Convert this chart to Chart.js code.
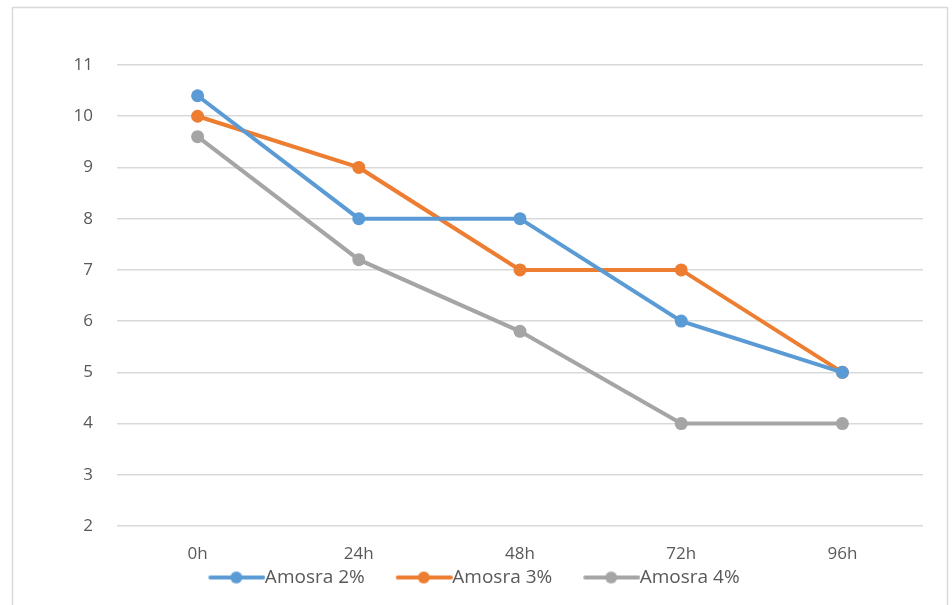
<!DOCTYPE html>
<html>
<head>
<meta charset="utf-8">
<script src="https://cdn.jsdelivr.net/npm/chart.js@4.4.1/dist/chart.umd.min.js"></script>
<style>
html,body{margin:0;padding:0;background:#fff;}
#wrap{position:relative;width:952px;height:605px;}
</style>
</head>
<body>
<div id="wrap"><canvas id="c" width="952" height="605"></canvas></div>
<script>
const categories = ['0h', '24h', '48h', '72h', '96h'];
const seriesNames = ['Amosra 2%', 'Amosra 3%', 'Amosra 4%'];
const amosra2 = [10.4, 8, 8, 6, 5];
const amosra3 = [10, 9, 7, 7, 5];
const amosra4 = [9.6, 7.2, 5.8, 4, 4];
const yTicks = [2, 3, 4, 5, 6, 7, 8, 9, 10, 11];
const colors = ['#5B9BD5', '#ED7D31', '#A5A5A5'];

const FONT = '"Open Sans", Lato, "Liberation Sans", sans-serif';
const LEG_FS = 19;

function legendIcon(color) {
  const cv = document.createElement('canvas');
  cv.width = 92; cv.height = 14;
  const g = cv.getContext('2d');
  g.strokeStyle = color; g.lineWidth = 4; g.lineCap = 'round';
  g.beginPath(); g.moveTo(37, 7); g.lineTo(90, 7); g.stroke();
  g.fillStyle = color;
  g.beginPath(); g.arc(63, 7, 6, 0, Math.PI * 2); g.fill();
  return cv;
}

const frame = {
  id: 'frame',
  beforeDraw(chart) {
    const ctx = chart.ctx;
    ctx.save();
    ctx.fillStyle = '#fff';
    ctx.fillRect(0, 0, chart.width, chart.height);
    ctx.strokeStyle = '#d9d9d9';
    ctx.lineWidth = 1.5;
    ctx.strokeRect(12.5, 7.5, 935, 700);
    ctx.restore();
  }
};

const datasets = [amosra2, amosra3, amosra4].map((d, i) => ({
  label: seriesNames[i],
  data: d,
  borderColor: colors[i],
  backgroundColor: colors[i],
  borderWidth: 4,
  pointStyle: 'circle',
  pointRadius: 6.5,
  pointHoverRadius: 6.5,
  pointBackgroundColor: colors[i],
  pointBorderWidth: 0,
  tension: 0
}));

new Chart(document.getElementById('c'), {
  type: 'line',
  data: { labels: categories, datasets },
  plugins: [frame],
  options: {
    responsive: false,
    animation: false,
    devicePixelRatio: 1,
    layout: { padding: { top: 65, right: 29, left: 0, bottom: 8 } },
    scales: {
      x: {
        offset: true,
        grid: { display: false, drawTicks: false },
        border: { display: false },
        afterFit(scale) { scale.height = 36; },
        ticks: { color: '#595959', font: { family: FONT, size: 17 }, padding: 18 }
      },
      y: {
        min: 2, max: 11,
        afterBuildTicks(scale) { scale.ticks = yTicks.map(v => ({ value: v })); },
        afterFit(scale) { scale.width = 117; },
        grid: { color: '#d9d9d9', lineWidth: 1.5, drawTicks: false },
        border: { display: false },
        ticks: { color: '#595959', font: { family: FONT, size: 17 }, padding: 24 }
      }
    },
    plugins: {
      title: { display: false },
      tooltip: { enabled: false },
      legend: {
        position: 'bottom',
        labels: {
          usePointStyle: true,
          pointStyleWidth: 72,
          color: '#595959',
          font: { family: FONT, size: LEG_FS },
          padding: 6,
          generateLabels(chart) {
            return chart.data.datasets.map((ds, i) => ({
              text: ds.label,
              fillStyle: ds.borderColor,
              strokeStyle: ds.borderColor,
              lineWidth: 0,
              pointStyle: legendIcon(ds.borderColor),
              datasetIndex: i,
              fontColor: '#595959'
            }));
          }
        }
      }
    }
  }
});
</script>
</body>
</html>
